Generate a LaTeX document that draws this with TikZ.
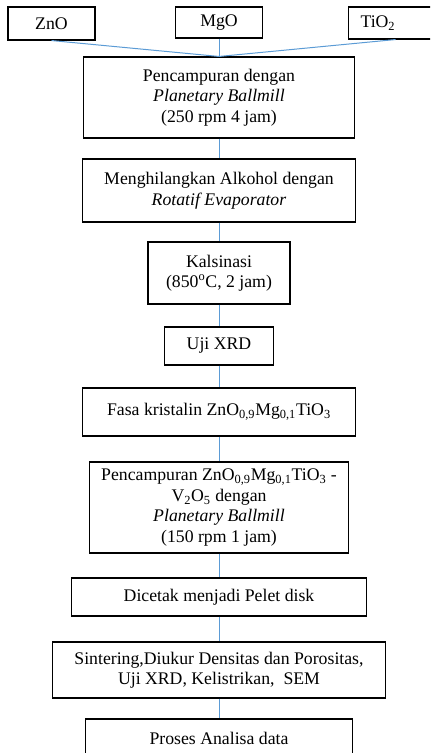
\documentclass[tikz,border=0pt]{standalone}
\usepackage{fontspec}
\setmainfont{Liberation Serif}
\usepackage{tikz}
\usetikzlibrary{positioning}
\definecolor{garisbiru}{RGB}{91,155,213}
\newlength\px
\setlength\px{0.75pt}

\begin{document}
\begin{tikzpicture}[x=0.75pt, y=-0.75pt,
      kotak/.style={draw=black, line width=0.8pt, align=center, inner sep=0pt,
        font=\fontsize{13.3}{15.4}\selectfont},
      garis/.style={draw=garisbiru, line width=0.75pt}]
    \useasboundingbox (0,0) rectangle (430,753);
    \clip (0,0) rectangle (430,753);
    % --- bahan awal ---
    \node[kotak, minimum width=87\px, minimum height=33\px] (zno) at (51.5,23.5) {ZnO};
    \node[kotak, minimum width=87\px, minimum height=31\px] (mgo) at (219,22.5) {MgO};
    \node[kotak, anchor=west, align=left, text width=70\px, inner xsep=12\px,
          minimum height=32\px] (tio) at (348,23) {TiO\textsubscript{2}};

    % --- tahap proses ---
    \node[kotak, minimum width=271\px, minimum height=81\px] (campur1) at (219,97.5)
      {Pencampuran dengan\\ \textit{Planetary Ballmill}\\ (250 rpm 4 jam)};
    \node[kotak, minimum width=273\px, minimum height=63\px] (evap) at (219,190.5)
      {Menghilangkan Alkohol dengan\\ \textit{Rotatif Evaporator}};
    \node[kotak, minimum width=142\px, minimum height=62\px] (kalsin) at (219,273)
      {Kalsinasi\\ (850\textsuperscript{o}C, 2 jam)};
    \node[kotak, minimum width=109\px, minimum height=38\px] (xrd) at (219,346) {Uji XRD};
    \node[kotak, minimum width=273\px, minimum height=48\px] (fasa) at (219,412)
      {Fasa kristalin ZnO\textsubscript{0,9}Mg\textsubscript{0,1}TiO\textsubscript{3}};
    \node[kotak, minimum width=259\px, minimum height=91\px] (campur2) at (219,507.5)
      {Pencampuran ZnO\textsubscript{0,9}Mg\textsubscript{0,1}TiO\textsubscript{3} -\\
       V\textsubscript{2}O\textsubscript{5} dengan\\ \textit{Planetary Ballmill}\\ (150 rpm 1 jam)};
    \node[kotak, minimum width=295\px, minimum height=38\px] (pelet) at (219,597)
      {Dicetak menjadi Pelet disk};
    \node[kotak, minimum width=333\px, minimum height=56\px] (sinter) at (219,670)
      {Sintering,Diukur Densitas dan Porositas,\\ Uji XRD, Kelistrikan,\ \ SEM};
    \node[kotak, minimum width=267\px, minimum height=38\px] (analisa) at (219,738)
      {Proses Analisa data};

    % --- garis penghubung ---
    \draw[garis] (zno.south) -- (campur1.north);
    \draw[garis] (mgo.south) -- (campur1.north);
    \draw[garis] (tio.south) -- (campur1.north);
    \draw[garis] (campur1) -- (evap);
    \draw[garis] (evap) -- (kalsin);
    \draw[garis] (kalsin) -- (xrd);
    \draw[garis] (xrd) -- (fasa);
    \draw[garis] (fasa) -- (campur2);
    \draw[garis] (campur2) -- (pelet);
    \draw[garis] (pelet) -- (sinter);
    \draw[garis] (sinter) -- (analisa);
  \end{tikzpicture}
\end{document}
